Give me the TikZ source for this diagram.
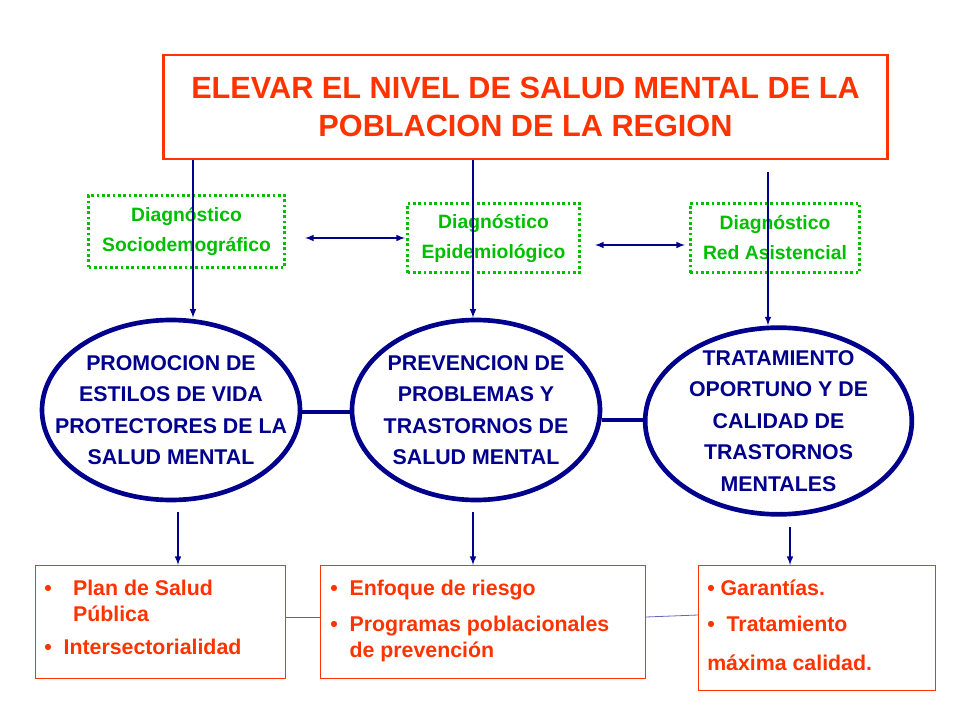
\documentclass[tikz,border=0pt]{standalone}
\usepackage{fontspec}
\setmainfont{Liberation Sans}
\usetikzlibrary{shapes.geometric}
\definecolor{rojo}{RGB}{255,51,0}
\definecolor{verde}{RGB}{0,190,0}
\definecolor{azul}{RGB}{0,0,140}
\begin{document}
\begin{tikzpicture}[x=0.75pt,y=-0.75pt,
        goal/.style={rectangle, draw=rojo, line width=2.2pt, minimum width=543pt, minimum height=78pt, text=rojo, font=\bfseries\fontsize{23}{28}\selectfont, align=center},
        diag/.style={rectangle, draw=verde, dotted, line width=2pt, text=verde, font=\bfseries\fontsize{14.5}{22.5}\selectfont, align=center, inner sep=0pt},
        eje/.style={ellipse, draw=azul, line width=3.5pt, inner sep=0pt},
        ejetxt/.style={text=azul, font=\bfseries\fontsize{16}{23.6}\selectfont, align=center, inner sep=0pt},
        accion/.style={rectangle, draw=rojo, line width=0.6pt, anchor=north west, inner sep=0pt},
        acctxt/.style={text=rojo, font=\bfseries\fontsize{16}{19}\selectfont, align=left, anchor=north west, inner sep=0pt},
        link/.style={draw=azul, line width=1.2pt, -latex},
        both/.style={draw=azul, line width=1.2pt, latex-latex},]
        \useasboundingbox (0,0) rectangle (960,720);
        \fill[white] (0,0) rectangle (960,720);

        % Goal
        \node[goal] (goal) at (525.5,107) {ELEVAR EL NIVEL DE SALUD MENTAL DE LA\\POBLACION DE LA REGION};

        % Diagnostics
        \node[diag, minimum width=147pt, minimum height=54pt] (d0) at (186.5,231.5) {Diagnóstico\\Sociodemográfico};
        \node[diag, minimum width=129pt, minimum height=52pt] (d1) at (493.5,238) {Diagnóstico\\Epidemiológico};
        \node[diag, minimum width=127pt, minimum height=52pt] (d2) at (775,238) {Diagnóstico\\Red Asistencial};

        % Ellipses
        \node[eje, minimum width=193.5pt, minimum height=135pt] (e0) at (171,410) {};
        \node[ejetxt] (l0) at (e0) {PROMOCION DE\\ESTILOS DE VIDA\\PROTECTORES DE LA\\SALUD MENTAL};
        \node[eje, minimum width=186pt, minimum height=135pt] (e1) at (476,410) {};
        \node[ejetxt] (l1) at (e1) {PREVENCION DE\\PROBLEMAS Y\\TRASTORNOS DE\\SALUD MENTAL};
        \node[eje, minimum width=200pt, minimum height=140pt] (e2) at (778.5,421) {};
        \node[ejetxt] (l2) at (e2) {TRATAMIENTO\\OPORTUNO Y DE\\CALIDAD DE\\TRASTORNOS\\MENTALES};

        % Bottom boxes
        \node[accion, minimum width=187.5pt, minimum height=85pt] (b0) at (35,565) {};
        \node[acctxt] (t0) at (44,580) {•\quad Plan de Salud\\\phantom{•}\quad Pública\\[6pt]•\ \ Intersectorialidad};
        \node[accion, minimum width=243.75pt, minimum height=85pt] (b1) at (320,565) {};
        \node[acctxt] (t1) at (330,580) {•\ \ Enfoque de riesgo\\[8pt]•\ \ Programas poblacionales\\\phantom{•}\ \ de prevención};
        \node[accion, minimum width=177.75pt, minimum height=94pt] (b2) at (698,565) {};
        \node[acctxt] (t2) at (707,580) {• Garantías.\\[8pt]•\ \ Tratamiento\\[10pt]máxima calidad.};

        % Links
        \draw[link] (goal.south -| 193,0) -- (e0.north -| 193,0);
        \draw[link] (goal.south -| 473,0) -- (e1.north -| 473,0);
        \draw[link] (768,172) -- (e2.north -| 768,0);
        \draw[both] (305,238) -- (405,238);
        \draw[both] (595,245) -- (685,245);
        \draw[draw=azul, line width=3pt] (e0.east |- 0,412) -- (e1.west |- 0,412);
        \draw[draw=azul, line width=3pt] (e1.east |- 0,420) -- (e2.west |- 0,420);
        \draw[link] (178,512) -- (b0.north -| 178,0);
        \draw[link] (473,512) -- (b1.north -| 473,0);
        \draw[link] (790,527) -- (b2.north -| 790,0);
        \draw[black!60, line width=0.6pt] (b0.east |- 0,617) -- (b1.west |- 0,617);
        \draw[azul!60, line width=0.6pt] (b1.east |- 0,617) -- (b2.west |- 0,615);
\end{tikzpicture}
\end{document}
